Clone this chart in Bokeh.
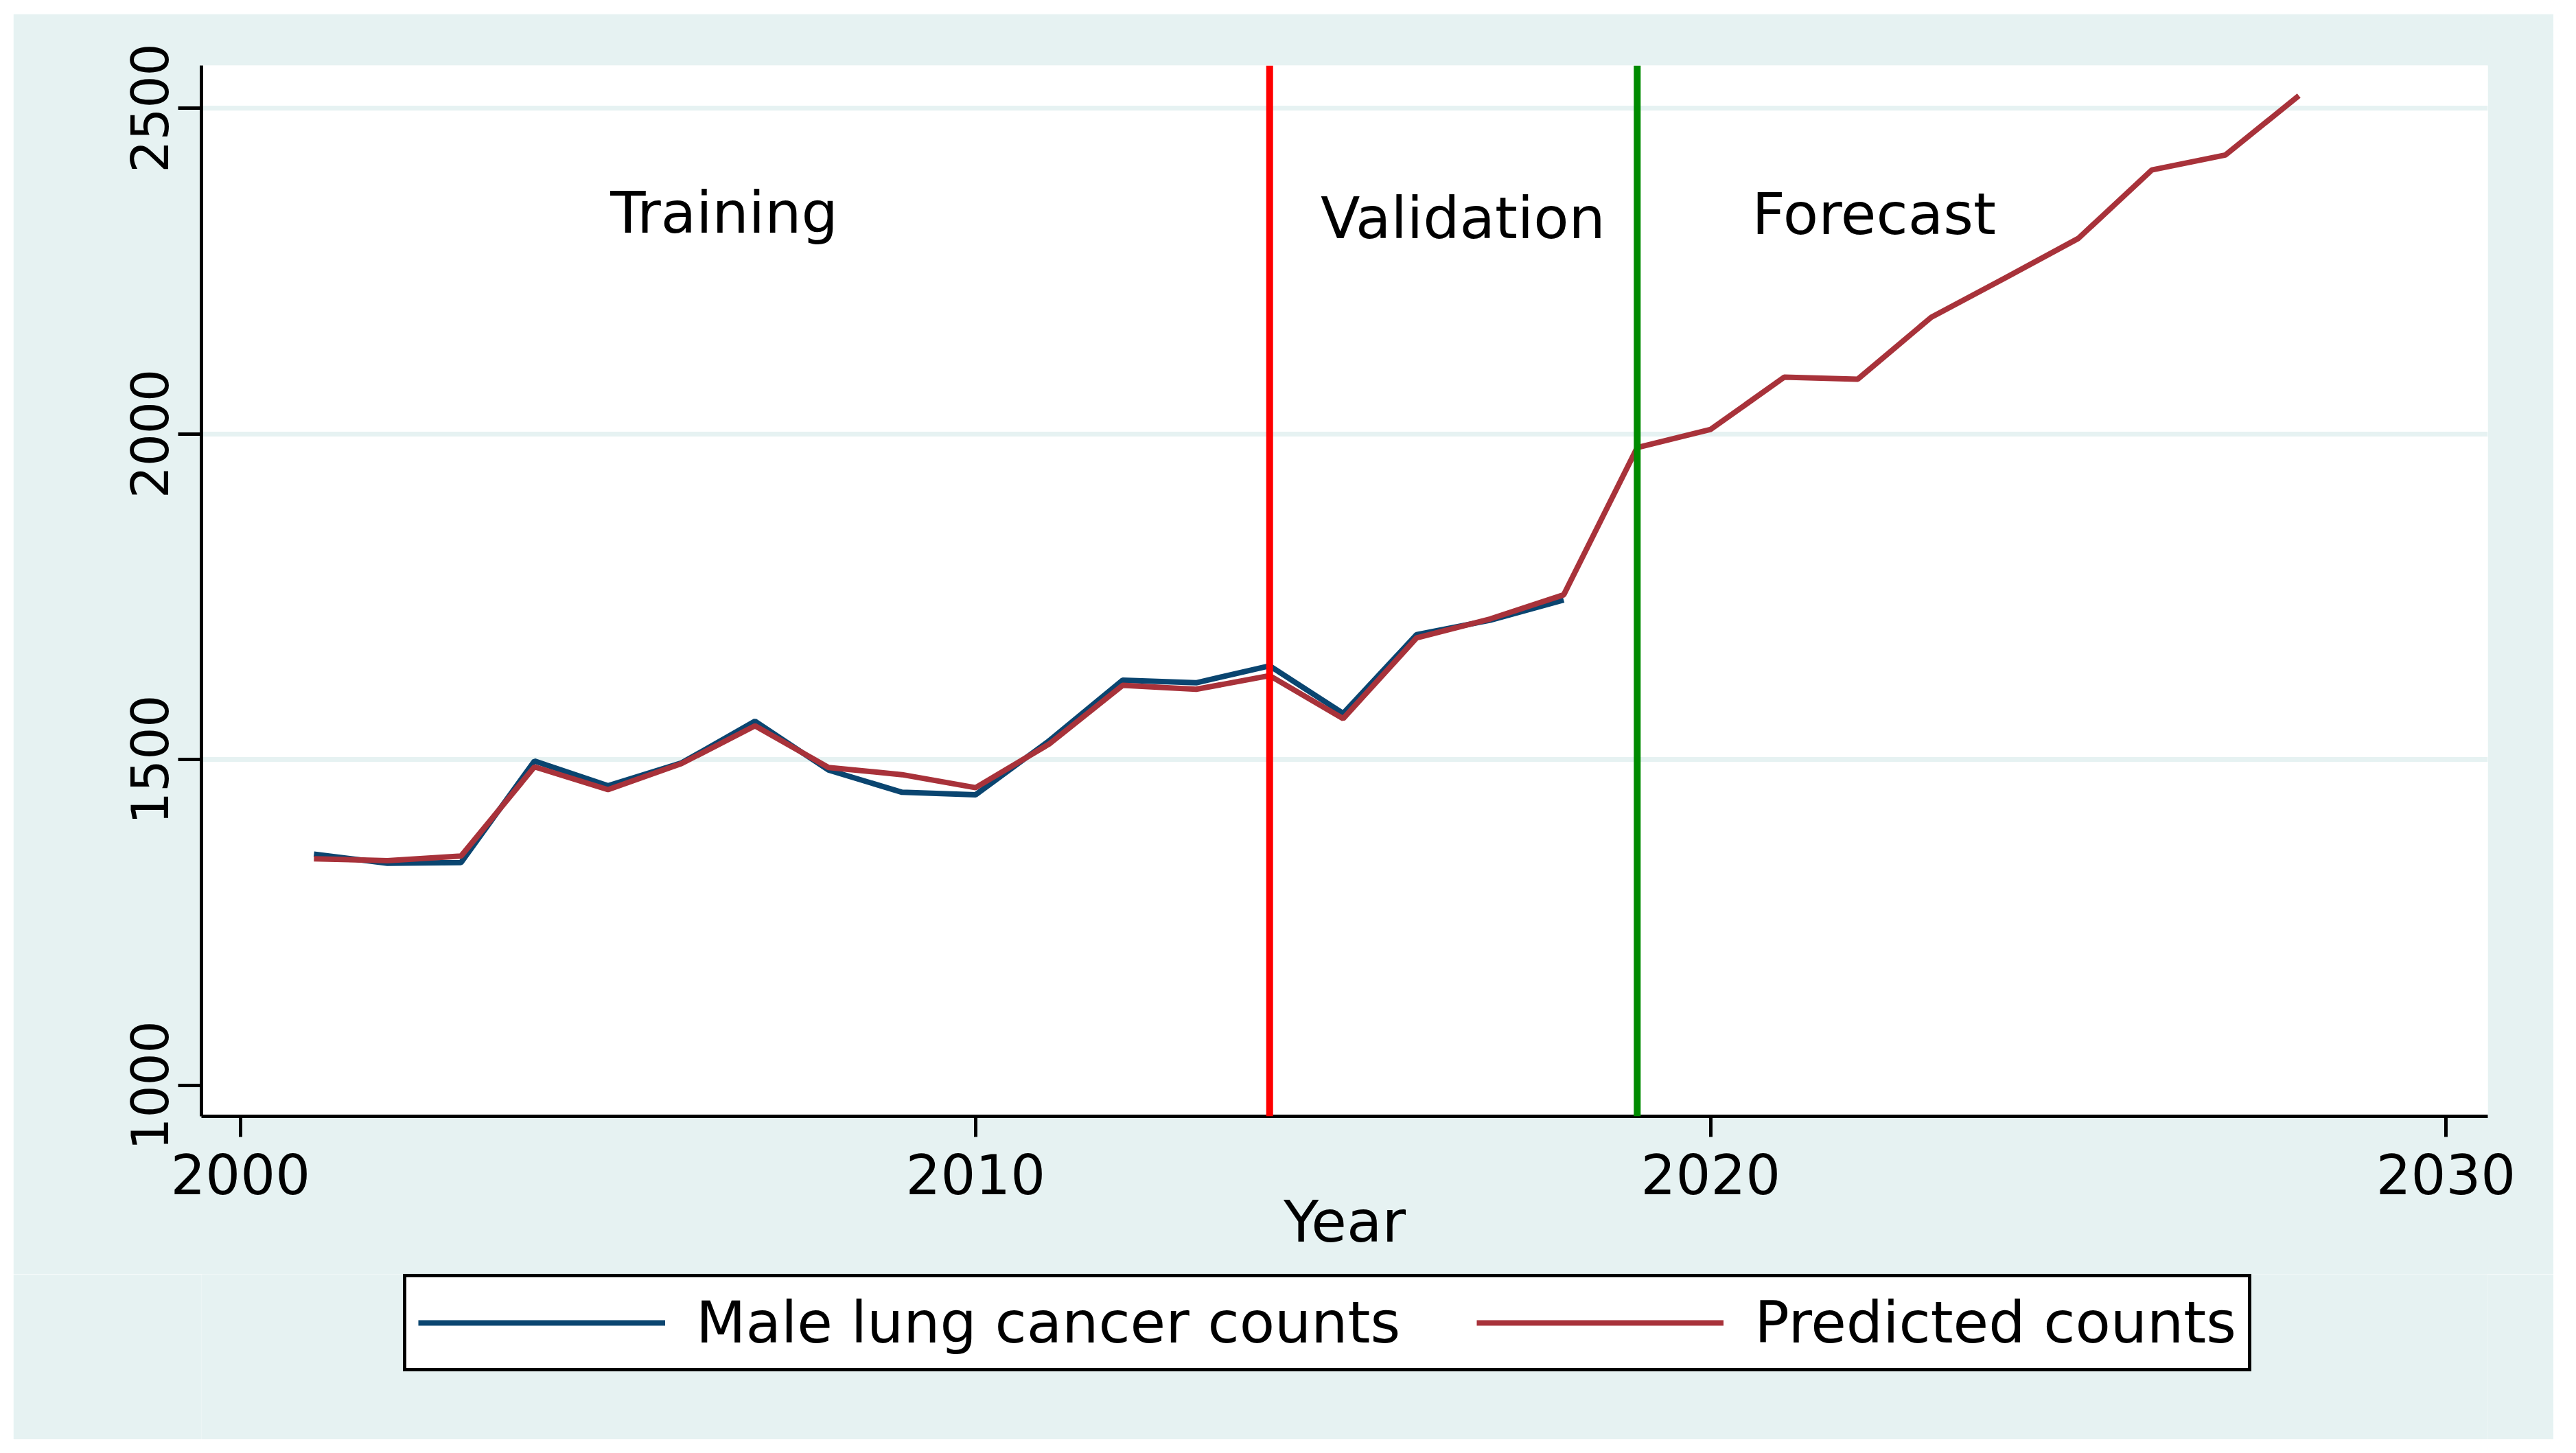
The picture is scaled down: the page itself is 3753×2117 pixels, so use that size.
from bokeh.plotting import figure
from bokeh.models import Span, Legend, LegendItem, FixedTicker, Label, Spacer
from bokeh.layouts import row, column
from bokeh.embed import file_html
from bokeh.resources import INLINE

# ---- data ----
years_actual = [2001, 2002, 2003, 2004, 2005, 2006, 2007, 2008, 2009, 2010,
                2011, 2012, 2013, 2014, 2015, 2016, 2017, 2018]
actual_counts = [1355, 1341, 1342, 1498, 1460, 1495, 1559, 1484, 1450, 1446,
                 1529, 1622, 1618, 1644, 1571, 1692, 1714, 1745]

years_pred = [2001, 2002, 2003, 2004, 2005, 2006, 2007, 2008, 2009, 2010,
              2011, 2012, 2013, 2014, 2015, 2016, 2017, 2018, 2019, 2020,
              2021, 2022, 2023, 2024, 2025, 2026, 2027, 2028]
pred_counts = [1348, 1345, 1352, 1489, 1454, 1494, 1552, 1488, 1477, 1457,
               1524, 1614, 1608, 1629, 1563, 1687, 1716, 1753, 1979, 2007,
               2087, 2084, 2179, 2239, 2300, 2405, 2428, 2519]

x_ticks = [2000, 2010, 2020, 2030]
y_ticks = [1000, 1500, 2000, 2500]
grid_ticks = [1500, 2000, 2500]
split_years = [2014, 2019]
phase_labels = ["Training", "Validation", "Forecast"]
phase_label_x = [2006.58, 2016.63, 2022.22]
phase_label_y = [2339, 2331, 2337]
series_names = ["Male lung cancer counts", "Predicted counts"]

BG = "#E6F2F2"
BLUE = "#0A4570"
RED = "#A8323A"
FONT = "DejaVu Sans"

# ---------------- main plot ----------------
p = figure(frame_width=3331, frame_height=1531,
           x_range=(1999.47, 2030.57), y_range=(952.6, 2565.3),
           output_backend="svg", toolbar_location=None,
           min_border_left=274, min_border_right=96,
           min_border_top=75, min_border_bottom=230)

p.background_fill_color = "white"
p.border_fill_color = BG
p.outline_line_color = None

p.xgrid.visible = False
p.ygrid.ticker = FixedTicker(ticks=grid_ticks)
p.ygrid.grid_line_color = BG
p.ygrid.grid_line_width = 7

for ax in (p.xaxis[0], p.yaxis[0]):
    ax.axis_line_width = 5
    ax.axis_line_color = "black"
    ax.major_tick_line_width = 5
    ax.major_tick_line_color = "black"
    ax.major_tick_in = 0
    ax.minor_tick_out = 0
    ax.minor_tick_in = 0
    ax.major_label_text_font = FONT
    ax.major_label_text_color = "black"

p.xaxis.ticker = FixedTicker(ticks=x_ticks)
p.xaxis.major_tick_out = 30
p.xaxis.major_label_standoff = 24
p.xaxis.major_label_text_font_size = "80px"
p.xaxis.axis_label = "Year"
p.xaxis.axis_label_text_font = FONT
p.xaxis.axis_label_text_font_size = "84px"
p.xaxis.axis_label_text_font_style = "normal"
p.xaxis.axis_label_text_color = "black"
p.xaxis.axis_label_standoff = -12

p.yaxis.ticker = FixedTicker(ticks=y_ticks)
p.yaxis.major_tick_out = 34
p.yaxis.major_label_text_font_size = "74px"
p.yaxis.major_label_orientation = "vertical"
p.yaxis.major_label_standoff = 14

p.add_layout(Span(location=split_years[0], dimension="height",
                  line_color="#FF0000", line_width=10))
p.add_layout(Span(location=split_years[1], dimension="height",
                  line_color="#008B00", line_width=10))

p.line(years_actual, actual_counts, line_color=BLUE, line_width=8)
p.line(years_pred, pred_counts, line_color=RED, line_width=8)

for t, x, y in zip(phase_labels, phase_label_x, phase_label_y):
    p.add_layout(Label(x=x, y=y, text=t, text_align="center",
                       text_baseline="alphabetic", text_font=FONT,
                       text_font_size="84px", text_color="black"))

# ---------------- legend strip (same graph region, below the axis title) ----------------
# The same series are plotted here only to provide the legend keys; the
# strip's ranges keep them out of view.
q = figure(width=3701, height=241, x_range=(0, 1), y_range=(0, 1),
           x_axis_type=None, y_axis_type=None,
           output_backend="svg", toolbar_location=None,
           min_border_left=274, min_border_right=96,
           min_border_top=0, min_border_bottom=0)
q.background_fill_color = BG
q.border_fill_color = BG
q.outline_line_color = None
q.grid.visible = False

k_actual = q.line(years_actual, actual_counts, line_color=BLUE, line_width=8)
k_pred = q.line(years_pred, pred_counts, line_color=RED, line_width=8)

legend = Legend(items=[LegendItem(label=series_names[0], renderers=[k_actual]),
                       LegendItem(label=series_names[1], renderers=[k_pred])],
                orientation="horizontal",
                location=(294, 99),
                border_line_color="black", border_line_width=5,
                border_line_alpha=1.0,
                background_fill_color="white", background_fill_alpha=1.0,
                padding=17, spacing=111, margin=0,
                glyph_width=360, glyph_height=40, label_standoff=45,
                label_text_font=FONT, label_text_font_size="84px",
                label_text_color="black")
q.add_layout(legend, "center")

layout = row(Spacer(width=19), column(Spacer(height=20), p, q))

open("out.html", "w").write(file_html(layout, INLINE))
